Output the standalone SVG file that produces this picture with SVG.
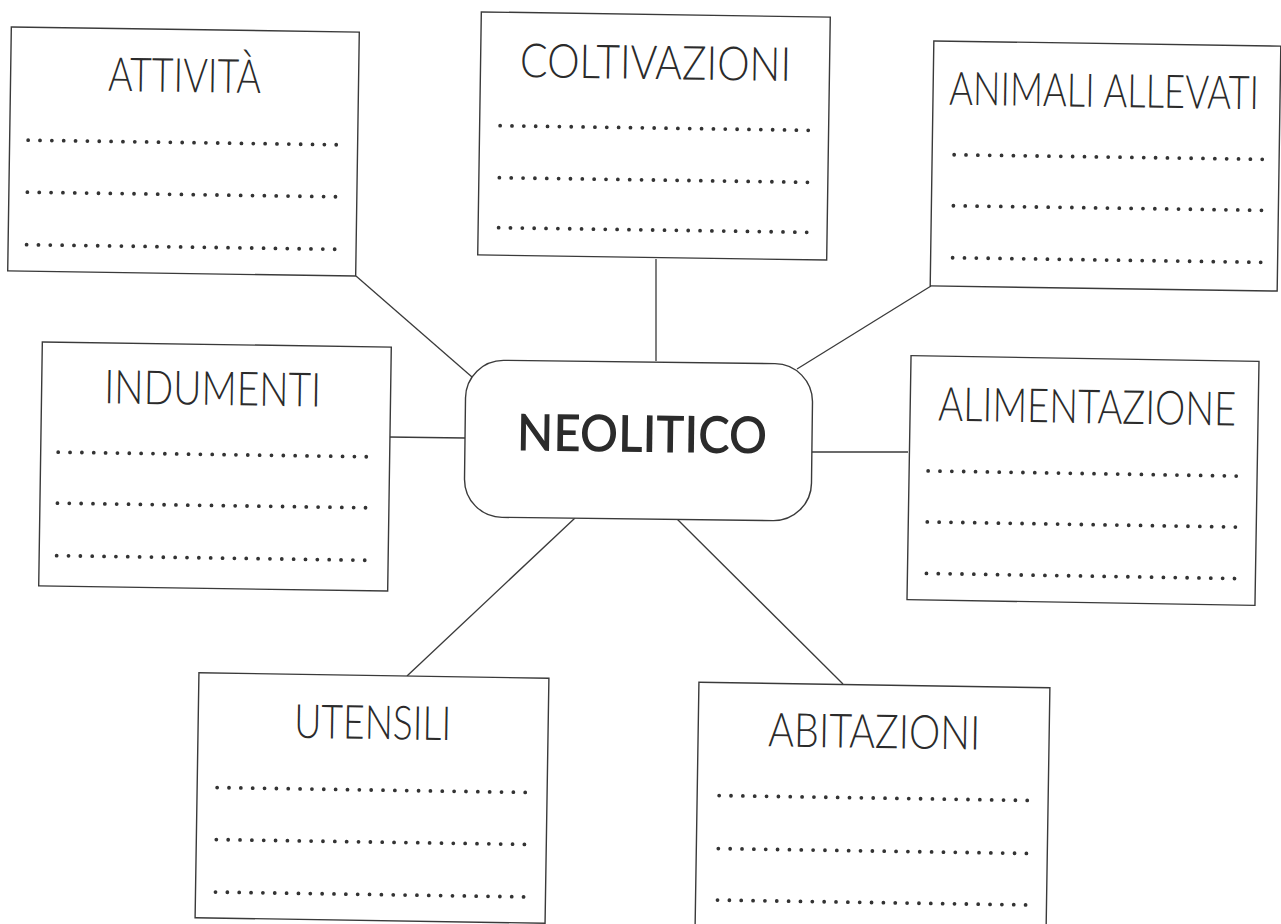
<svg xmlns="http://www.w3.org/2000/svg" width="1281" height="924" viewBox="0 0 1281 924">
<style>
.bg{fill:#ffffff}
.box{fill:#ffffff;stroke:#3a3a3a;stroke-width:1.4}
.title{font-family:Lato,"Liberation Sans",sans-serif;font-weight:300;font-size:47px;fill:#2b2b2b;text-anchor:middle}
.main{font-family:Lato,"Liberation Sans",sans-serif;font-weight:600;font-size:51px;fill:#2b2b2b;text-anchor:middle}
.dots{stroke:#333333;stroke-width:3.8;stroke-linecap:round;stroke-dasharray:0 11.85;fill:none}
.conn{stroke:#3a3a3a;stroke-width:1.3;fill:none}
</style>
<rect class="bg" x="0" y="0" width="1281" height="924"/>
<g id="connectors">
<line class="conn" x1="356" y1="276" x2="472" y2="377"/>
<line class="conn" x1="656" y1="259" x2="656" y2="361"/>
<line class="conn" x1="931" y1="286" x2="797" y2="369"/>
<line class="conn" x1="388" y1="437" x2="465" y2="438"/>
<line class="conn" x1="812" y1="452" x2="908" y2="452"/>
<line class="conn" x1="407" y1="676" x2="575" y2="518"/>
<line class="conn" x1="677" y1="519" x2="843" y2="684"/>
</g>
<g id="neolitico" transform="rotate(0.7 638.5 440.5)">
<rect class="box" x="465" y="362" width="347" height="157" rx="38" ry="38"/>
<text class="main" x="642" y="452" textLength="250" lengthAdjust="spacingAndGlyphs">NEOLITICO</text>
</g>
<g id="attivita" transform="rotate(0.85 183.5 151.5)">
<rect class="box" x="9.5" y="29.5" width="348" height="244"/>
<text class="title" x="183.5" y="92" textLength="153" lengthAdjust="spacingAndGlyphs">ATTIVITÀ</text>
<line class="dots" x1="28" y1="142.5" x2="336.6" y2="142.5"/>
<line class="dots" x1="28" y1="194.5" x2="336.6" y2="194.5"/>
<line class="dots" x1="28" y1="247" x2="336.6" y2="247"/>
</g>
<g id="coltivazioni" transform="rotate(0.85 654 136)">
<rect class="box" x="479.5" y="14.5" width="349" height="243"/>
<text class="title" x="654.5" y="79" textLength="271" lengthAdjust="spacingAndGlyphs">COLTIVAZIONI</text>
<line class="dots" x1="500" y1="128" x2="808.6" y2="128"/>
<line class="dots" x1="500" y1="180" x2="808.6" y2="180"/>
<line class="dots" x1="500" y1="230" x2="808.6" y2="230"/>
</g>
<g id="animali-allevati" transform="rotate(0.85 1105.5 166)">
<rect class="box" x="932" y="43.5" width="347" height="245"/>
<text class="title" x="1103" y="107" textLength="310" lengthAdjust="spacingAndGlyphs" style="font-size:38px" transform="translate(0 107) scale(1 1.22) translate(0 -107)">ANIMALI ALLEVATI</text>
<line class="dots" x1="954" y1="157" x2="1262.6" y2="157"/>
<line class="dots" x1="954" y1="208" x2="1262.6" y2="208"/>
<line class="dots" x1="954" y1="260" x2="1262.6" y2="260"/>
</g>
<g id="indumenti" transform="rotate(0.85 215 466.5)">
<rect class="box" x="40.5" y="344.5" width="349" height="244"/>
<text class="title" x="211.5" y="405" textLength="217" lengthAdjust="spacingAndGlyphs">INDUMENTI</text>
<line class="dots" x1="58" y1="454.5" x2="366.6" y2="454.5"/>
<line class="dots" x1="58" y1="505.5" x2="366.6" y2="505.5"/>
<line class="dots" x1="58" y1="558" x2="366.6" y2="558"/>
</g>
<g id="alimentazione" transform="rotate(0.95 1083 480.5)">
<rect class="box" x="909" y="358.5" width="348" height="244"/>
<text class="title" x="1086" y="423" textLength="298" lengthAdjust="spacingAndGlyphs" style="font-size:42px" transform="translate(0 423) scale(1 1.12) translate(0 -423)">ALIMENTAZIONE</text>
<line class="dots" x1="928" y1="473.5" x2="1236.6" y2="473.5"/>
<line class="dots" x1="928" y1="524.5" x2="1236.6" y2="524.5"/>
<line class="dots" x1="928" y1="576" x2="1236.6" y2="576"/>
</g>
<g id="utensili" transform="rotate(0.9 372 798)">
<rect class="box" x="197" y="675.5" width="350" height="245"/>
<text class="title" x="371.5" y="739" textLength="157" lengthAdjust="spacingAndGlyphs">UTENSILI</text>
<line class="dots" x1="217" y1="790" x2="525.6" y2="790"/>
<line class="dots" x1="217" y1="842" x2="525.6" y2="842"/>
<line class="dots" x1="217" y1="894.5" x2="525.6" y2="894.5"/>
</g>
<g id="abitazioni" transform="rotate(0.9 873 807)">
<rect class="box" x="697" y="685" width="351" height="244"/>
<text class="title" x="873" y="748" textLength="212" lengthAdjust="spacingAndGlyphs">ABITAZIONI</text>
<line class="dots" x1="719" y1="798" x2="1027.6" y2="798"/>
<line class="dots" x1="719" y1="851" x2="1027.6" y2="851"/>
<line class="dots" x1="719" y1="902.5" x2="1027.6" y2="902.5"/>
</g>
</svg>
